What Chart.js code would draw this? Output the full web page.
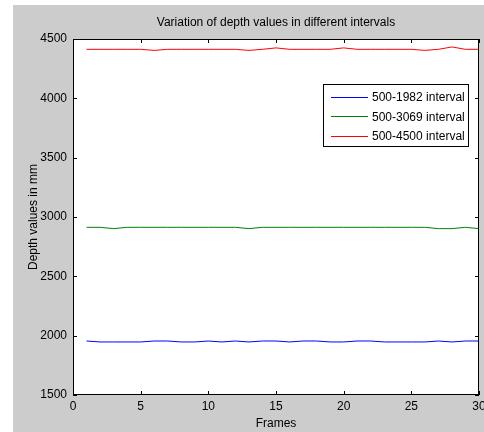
<!DOCTYPE html>
<html>
<head>
<meta charset="utf-8">
<script src="https://cdn.jsdelivr.net/npm/chart.js@4.4.0/dist/chart.umd.min.js"></script>
<style>
  html, body { margin: 0; padding: 0; background: #fff; overflow: hidden; width: 484px; height: 432px; }
  #wrap { position: absolute; left: 13px; top: 5px; width: 480px; height: 427px; background: #cccccc; }
  canvas { display: block; }
</style>
</head>
<body>
<div id="wrap"><canvas id="depthChart" width="480" height="427"></canvas></div>
<script>
// Data
const frames = [1, 2, 3, 4, 5, 6, 7, 8, 9, 10, 11, 12, 13, 14, 15, 16, 17, 18, 19, 20, 21, 22, 23, 24, 25, 26, 27, 28, 29, 30];
const depth1982 = [1955, 1947, 1947, 1947, 1947, 1955, 1955, 1947, 1947, 1955, 1947, 1955, 1947, 1955, 1955, 1947, 1955, 1955, 1947, 1947, 1955, 1955, 1947, 1947, 1947, 1947, 1955, 1947, 1955, 1955];
const depth3069 = [2913, 2913, 2902, 2913, 2913, 2913, 2913, 2913, 2913, 2913, 2913, 2913, 2902, 2913, 2913, 2913, 2913, 2913, 2913, 2913, 2913, 2913, 2913, 2913, 2913, 2913, 2902, 2902, 2913, 2902];
const depth4500 = [4413, 4413, 4413, 4413, 4413, 4404, 4413, 4413, 4413, 4413, 4413, 4413, 4404, 4413, 4425, 4413, 4413, 4413, 4413, 4425, 4413, 4413, 4413, 4413, 4413, 4404, 4413, 4433, 4413, 4413];
const seriesLabels = ["500-1982 interval", "500-3069 interval", "500-4500 interval"];
const seriesColors = ["#0000ff", "#008000", "#ff0000"];
const titleText = "Variation of depth values in different intervals";

Chart.defaults.font.family = "'Liberation Sans', Arial, sans-serif";
Chart.defaults.font.size = 12;
Chart.defaults.color = "#000";

function toPoints(values) {
  return frames.map((f, i) => ({ x: f, y: values[i] }));
}

// white axes box, inward ticks, title and legend like the MATLAB figure
const matlabFrame = {
  id: "matlabFrame",
  beforeDraw(chart) {
    const { ctx, chartArea: a } = chart;
    ctx.save();
    ctx.fillStyle = "#fff";
    ctx.fillRect(a.left, a.top, a.right - a.left, a.bottom - a.top);
    ctx.restore();
  },
  afterDraw(chart) {
    const { ctx, chartArea: a, scales } = chart;
    ctx.save();
    ctx.strokeStyle = "#000";
    ctx.lineWidth = 1;
    ctx.beginPath();
    scales.x.ticks.forEach(t => {
      const px = Math.round(scales.x.getPixelForValue(t.value)) + 0.5;
      ctx.moveTo(px, a.bottom); ctx.lineTo(px, a.bottom - 4);
      ctx.moveTo(px, a.top); ctx.lineTo(px, a.top + 4);
    });
    scales.y.ticks.forEach(t => {
      const py = Math.round(scales.y.getPixelForValue(t.value)) + 0.5;
      ctx.moveTo(a.left, py); ctx.lineTo(a.left + 4, py);
      ctx.moveTo(a.right, py); ctx.lineTo(a.right - 4, py);
    });
    ctx.stroke();
    ctx.strokeRect(a.left + 0.5, a.top + 0.5, a.right - a.left - 1, a.bottom - a.top - 1);

    // title centred over the axes
    ctx.fillStyle = "#000";
    ctx.font = "12px 'Liberation Sans', Arial, sans-serif";
    ctx.textAlign = "center";
    ctx.textBaseline = "middle";
    ctx.fillText(titleText, (a.left + a.right) / 2, a.top - 16);

    // legend box
    const bx = a.right - 156, by = a.top + 45, bw = 146, bh = 63;
    ctx.fillStyle = "#fff";
    ctx.fillRect(bx, by, bw, bh);
    ctx.strokeStyle = "#000";
    ctx.strokeRect(bx + 0.5, by + 0.5, bw - 1, bh - 1);
    ctx.textAlign = "left";
    chart.data.datasets.forEach((ds, i) => {
      const ry = by + 12.5 + i * 19.7;
      ctx.strokeStyle = ds.borderColor;
      ctx.beginPath();
      ctx.moveTo(bx + 8, Math.round(ry) + 0.5);
      ctx.lineTo(bx + 45, Math.round(ry) + 0.5);
      ctx.stroke();
      ctx.fillStyle = "#000";
      ctx.fillText(ds.label, bx + 49, ry + 1);
    });
    ctx.restore();
  }
};

const ctx = document.getElementById("depthChart").getContext("2d");
const depthChart = new Chart(ctx, {
  type: "line",
  data: {
    datasets: [depth1982, depth3069, depth4500].map((vals, i) => ({
      label: seriesLabels[i],
      data: toPoints(vals),
      borderColor: seriesColors[i],
      borderWidth: 1,
      pointRadius: 0,
      tension: 0,
      fill: false,
    })),
  },
  options: {
    responsive: false,
    animation: false,
    layout: { padding: { top: 34, left: 0, right: 14, bottom: 0 } },
    plugins: {
      legend: { display: false },
      title: { display: false },
      tooltip: { enabled: false },
    },
    scales: {
      x: {
        type: "linear",
        min: 0,
        max: 30,
        ticks: { stepSize: 5, padding: 4, maxRotation: 0 },
        grid: { display: false, drawTicks: false },
        border: { display: false },
        title: { display: true, text: "Frames", padding: { top: 0, bottom: 1 } },
        afterFit(scale) { scale.height = 37; },
      },
      y: {
        min: 1500,
        max: 4500,
        ticks: { stepSize: 500, padding: 6, callback: v => String(v) },
        grid: { display: false, drawTicks: false },
        border: { display: false },
        title: { display: true, text: "Depth values in mm", padding: { top: 13, bottom: 0 } },
        afterFit(scale) { scale.width = 60; },
      },
    },
  },
  plugins: [matlabFrame],
});
</script>
</body>
</html>
